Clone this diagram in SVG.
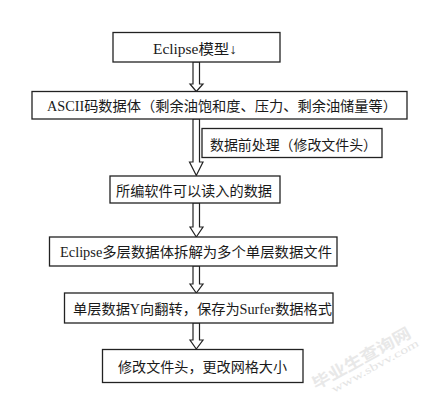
<svg xmlns="http://www.w3.org/2000/svg" width="432" height="401" viewBox="0 0 432 401">
<style>
.box{fill:#fff;stroke:#222;stroke-width:1.3}
.arr{fill:#fff;stroke:#222;stroke-width:1.2;stroke-linejoin:miter}
.t{font-family:"Liberation Serif","Noto Sans CJK SC",serif;font-size:14px;fill:#1a1a1a}
.wm{font-family:"Noto Sans CJK SC",sans-serif;font-weight:bold;fill:#e8e8e8}
.wm2{font-family:"Liberation Serif",serif;fill:#e4e4e4}
</style>
<rect width="432" height="401" fill="#fff"/>
<g id="connectors">
<polygon class="arr" points="193,62 193,84 190,84 196.3,91.5 203,84 199.5,84 199.5,62"/>
<polygon class="arr" points="193,119 193,162 189.5,162 196.3,175.5 203,162 199.5,162 199.5,119"/>
<polygon class="arr" points="193,203 193,227 190,227 196.3,237 203,227 199.5,227 199.5,203"/>
<polygon class="arr" points="193,266 193,284 190,284 196.3,293 203,284 199.5,284 199.5,266"/>
<polygon class="arr" points="193,323 193,340 190,340 196.3,349 203,340 199.5,340 199.5,323"/>
</g>
<g id="n1"><rect class="box" x="113" y="32.5" width="167" height="29.5"/><text class="t" x="153" y="54" textLength="84" lengthAdjust="spacingAndGlyphs">Eclipse模型↓</text></g>
<g id="n2"><rect class="box" x="32" y="91.5" width="375" height="27.5"/><text class="t" x="47" y="111" textLength="350" lengthAdjust="spacingAndGlyphs">ASCII码数据体（剩余油饱和度、压力、剩余油储量等）</text></g>
<g id="n-label"><rect class="box" x="202" y="128.5" width="180" height="29"/><text class="t" x="210" y="150" textLength="167" lengthAdjust="spacingAndGlyphs">数据前处理（修改文件头）</text></g>
<g id="n3"><rect class="box" x="110" y="176" width="170" height="27"/><text class="t" x="116" y="196" textLength="156" lengthAdjust="spacingAndGlyphs">所编软件可以读入的数据</text></g>
<g id="n4"><rect class="box" x="49.5" y="237" width="287.5" height="29"/><text class="t" x="60" y="257" textLength="272" lengthAdjust="spacingAndGlyphs">Eclipse多层数据体拆解为多个单层数据文件</text></g>
<g id="n5"><rect class="box" x="64.5" y="293" width="268.5" height="30"/><text class="t" x="73" y="314" textLength="259" lengthAdjust="spacingAndGlyphs">单层数据Y向翻转，保存为Surfer数据格式</text></g>
<g id="n6"><rect class="box" x="102.5" y="349.5" width="200.5" height="33"/><text class="t" x="118" y="372" textLength="169" lengthAdjust="spacingAndGlyphs">修改文件头，更改网格大小</text></g>
<g id="watermark">
<text class="wm" font-size="16" transform="translate(316,390) rotate(-29)" textLength="110" lengthAdjust="spacingAndGlyphs">毕业生查询网</text>
<text class="wm2" font-size="11" transform="translate(334,393) rotate(-29)" textLength="98" lengthAdjust="spacingAndGlyphs">www.sbvv.com</text>
</g>
</svg>
